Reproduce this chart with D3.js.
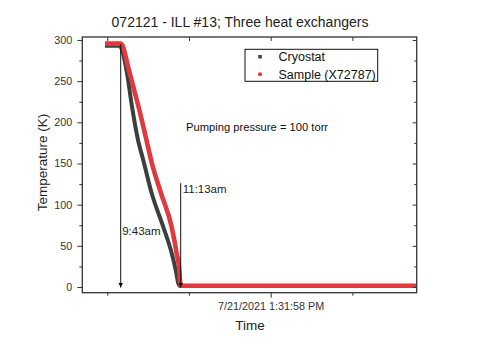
<!DOCTYPE html>
<html><head><meta charset="utf-8">
<script src="https://cdn.jsdelivr.net/npm/d3@7"></script>
<style>
html,body{margin:0;padding:0;background:#fff;}
svg{display:block;font-family:Arial,"Liberation Sans",sans-serif;}
</style></head>
<body>
<svg id="chart" width="480" height="346"></svg>
<script>
// ---- data (time in minutes since midnight, 21 Jul 2021) ----
const cryoTime = [568.6, 589.9, 592.1, 593.6, 600.9, 608.3, 617.1, 624.9, 637.2, 654.2, 666.6, 672.5, 676.3, 678.8, 1025.3];
const cryoTemp = [293, 293, 291, 288, 260, 219, 178.5, 154, 113.8, 73, 41, 20.6, 4.5, 1.2, 1.2];
const sampleTime = [568.6, 592.1, 594.3, 602.4, 611.2, 620.0, 628.8, 637.6, 650.9, 666.6, 673.9, 677.7, 678.8, 679.5, 1025.3];
const sampleTemp = [295.5, 295.5, 293.5, 268, 240, 212, 181, 150, 113.8, 73, 41, 20.6, 8, 1.5, 1.5];
const yMajorTicks = [0, 50, 100, 150, 200, 250, 300];
const yMinorTicks = [25, 75, 125, 175, 225, 275];
const xMajorTicks = [811.97];
const xMajorLabels = ["7/21/2021 1:31:58 PM"];
const xMinorTicks = [571.97, 691.97, 931.97];
const markerTimes = [591.7, 679.8];
const markerLabels = ["9:43am", "11:13am"];
const markerTops = [295, 126];
const seriesNames = ["Cryostat", "Sample (X72787)"];
const titleText = "072121 - ILL #13; Three heat exchangers";
const noteText = "Pumping pressure = 100 torr";

// ---- layout ----
const L = 82.3, R = 416.7, T = 37, B = 292.7;
const svg = d3.select("#chart");
const x = d3.scaleLinear().domain([535.3, 1026.4]).range([L, R]);
const y = d3.scaleLinear().domain([-6.9, 303.6]).range([B, T]);
const axisCol = "#333";
const red = "#e0393f", dark = "#3c3f3e";

svg.append("defs").append("marker")
  .attr("id","arr").attr("viewBox","0 0 10 10").attr("refX",10).attr("refY",5)
  .attr("markerWidth",5).attr("markerHeight",6).attr("markerUnits","userSpaceOnUse")
  .attr("orient","auto")
  .append("path").attr("d","M0,0L10,5L0,10Z").attr("fill","#111");

// title
svg.append("text").attr("x",240).attr("y",27).attr("text-anchor","middle")
  .attr("font-size",14).attr("fill","#222").text(titleText);

// series
const line = d3.line().x(d=>x(d[0])).y(d=>y(d[1])).curve(d3.curveMonotoneX);
svg.append("clipPath").attr("id","clip").append("rect")
  .attr("x",L).attr("y",T).attr("width",R-L).attr("height",B-T);
const g = svg.append("g").attr("clip-path","url(#clip)");
g.append("path").datum(d3.zip(cryoTime, cryoTemp)).attr("d",line)
  .attr("fill","none").attr("stroke",dark).attr("stroke-width",4).attr("stroke-linejoin","round");
g.append("path").datum(d3.zip(sampleTime, sampleTemp)).attr("d",line)
  .attr("fill","none").attr("stroke",red).attr("stroke-width",4.6).attr("stroke-linejoin","round");

// marker arrows
markerTimes.forEach((t,i)=>{
  svg.append("line").attr("x1",x(t)).attr("x2",x(t)).attr("y1",y(markerTops[i])).attr("y2",y(0)+0.5)
    .attr("stroke","#111").attr("stroke-width",1).attr("marker-end","url(#arr)");
});
svg.append("text").attr("x",x(markerTimes[0])+1.5).attr("y",235).attr("font-size",11.5).attr("fill","#222").text(markerLabels[0]);
svg.append("text").attr("x",x(markerTimes[1])+2).attr("y",193).attr("font-size",11.5).attr("fill","#222").text(markerLabels[1]);

// note
svg.append("text").attr("x",186).attr("y",131).attr("font-size",11.2).attr("fill","#111").text(noteText);

// axes
function styleAxis(sel){
  sel.select(".domain").remove();
  sel.selectAll("line").attr("stroke",axisCol).attr("stroke-width",1);
  sel.selectAll("text").attr("fill","#333").attr("font-size",10.8).attr("font-family","Arial,'Liberation Sans',sans-serif");
}
svg.append("g").attr("transform",`translate(${L},0)`)
  .call(d3.axisLeft(y).tickValues(yMajorTicks).tickSize(5).tickPadding(5).tickFormat(d3.format("d"))).call(styleAxis);
svg.append("g").attr("transform",`translate(${L},0)`)
  .call(d3.axisLeft(y).tickValues(yMinorTicks).tickSize(3).tickFormat("")).call(styleAxis);
svg.append("g").attr("transform",`translate(${R},0)`)
  .call(d3.axisRight(y).tickValues(yMajorTicks).tickSize(-4).tickFormat("")).call(styleAxis);
svg.append("g").attr("transform",`translate(${R},0)`)
  .call(d3.axisRight(y).tickValues(yMinorTicks).tickSize(-2.5).tickFormat("")).call(styleAxis);
svg.append("g").attr("transform",`translate(0,${B})`)
  .call(d3.axisBottom(x).tickValues(xMajorTicks).tickSize(5).tickPadding(5)
    .tickFormat((d,i)=>xMajorLabels[i])).call(styleAxis);
svg.append("g").attr("transform",`translate(0,${B})`)
  .call(d3.axisBottom(x).tickValues(xMinorTicks).tickSize(3).tickFormat("")).call(styleAxis);
svg.append("g").attr("transform",`translate(0,${T})`)
  .call(d3.axisTop(x).tickValues(xMajorTicks.concat(xMinorTicks)).tickSize(-4).tickFormat("")).call(styleAxis);

// frame
svg.append("rect").attr("x",L).attr("y",T).attr("width",R-L).attr("height",B-T)
  .attr("fill","none").attr("stroke",axisCol).attr("stroke-width",1.3);

// axis titles
svg.append("text").attr("transform","translate(47,162.5) rotate(-90)").attr("text-anchor","middle")
  .attr("font-size",13.5).attr("fill","#222").text("Temperature (K)");
svg.append("text").attr("x",250).attr("y",330).attr("text-anchor","middle")
  .attr("font-size",13.5).attr("fill","#222").text("Time");

// legend
const lg = svg.append("g");
lg.append("rect").attr("x",245).attr("y",49.3).attr("width",132.7).attr("height",32)
  .attr("fill","#fff").attr("stroke","#111").attr("stroke-width",1);
lg.append("rect").attr("x",258.3).attr("y",55).attr("width",3.5).attr("height",3.5).attr("fill",dark);
lg.append("circle").attr("cx",260).attr("cy",74.3).attr("r",2).attr("fill",red);
lg.append("text").attr("x",278.5).attr("y",61).attr("font-size",12.5).attr("fill","#111").text(seriesNames[0]);
lg.append("text").attr("x",278.5).attr("y",78.5).attr("font-size",12.5).attr("fill","#111").text(seriesNames[1]);
</script>
</body></html>
